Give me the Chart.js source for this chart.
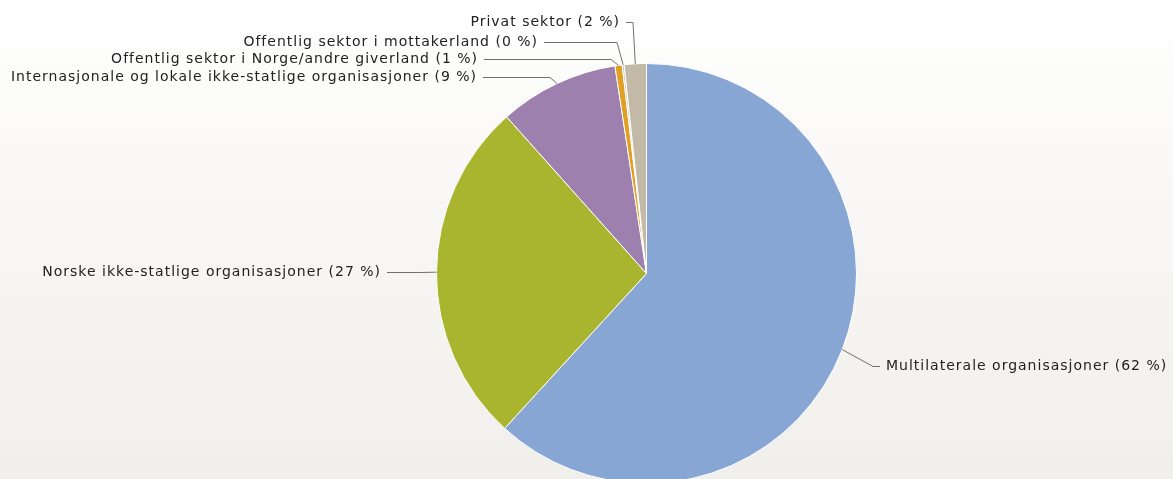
<!DOCTYPE html>
<html>
<head>
<meta charset="utf-8">
<script src="https://cdn.jsdelivr.net/npm/chart.js@4/dist/chart.umd.min.js"></script>
<style>
  html, body { margin: 0; padding: 0; }
  body { width: 1173px; height: 479px; overflow: hidden;
         background: linear-gradient(to bottom, #ffffff 0%, #f8f7f5 45%, #f1efeb 100%); }
  #wrap { position: absolute; left: 0; top: 0; width: 1173px; height: 500px; }
</style>
</head>
<body>
<div id="wrap"><canvas id="c" width="1173" height="500"></canvas></div>
<script>
// ---- data ----
const categories = [
  'Multilaterale organisasjoner',
  'Norske ikke-statlige organisasjoner',
  'Internasjonale og lokale ikke-statlige organisasjoner',
  'Offentlig sektor i Norge/andre giverland',
  'Offentlig sektor i mottakerland',
  'Privat sektor'
];
const shares = [61.8, 26.6, 9.2, 0.55, 0.15, 1.7];
const shareLabels = ['62 %', '27 %', '9 %', '1 %', '0 %', '2 %'];
const sliceColors = ['#88a6d4', '#a9b52e', '#9d80ad', '#e0a024', '#c9c3b4', '#c2baa7'];

// ---- label layout (text anchor, connector bend) ----
const labelLayout = [
  { x: 886, y: 366, align: 'left',  bendX: 873 },
  { x: 381, y: 272, align: 'right', bendX: 420 },
  { x: 477, y: 77,  align: 'right', bendX: 550 },
  { x: 478, y: 59,  align: 'right', bendX: 611 },
  { x: 538, y: 42,  align: 'right', bendX: 617 },
  { x: 620, y: 22,  align: 'right', bendX: 633 }
];

const labelPlugin = {
  id: 'pieLabels',
  afterDatasetsDraw(chart) {
    const ctx = chart.ctx;
    const meta = chart.getDatasetMeta(0);
    ctx.save();
    ctx.font = '14px "DejaVu Sans"';
    ctx.letterSpacing = '1px';
    ctx.textBaseline = 'middle';
    meta.data.forEach((arc, i) => {
      const p = arc.getProps(['x', 'y', 'startAngle', 'endAngle', 'outerRadius'], true);
      const mid = (p.startAngle + p.endAngle) / 2;
      const ex = p.x + Math.cos(mid) * p.outerRadius;
      const ey = p.y + Math.sin(mid) * p.outerRadius;
      const L = labelLayout[i];
      const text = categories[i] + ' (' + shareLabels[i] + ')';
      const sx = L.align === 'right' ? L.x + 6 : L.x - 6;
      ctx.strokeStyle = '#707070';
      ctx.lineWidth = 1;
      ctx.beginPath();
      ctx.moveTo(sx, L.y + 0.5);
      ctx.lineTo(L.bendX, L.y + 0.5);
      ctx.lineTo(ex, ey);
      ctx.stroke();
      ctx.fillStyle = '#222222';
      ctx.textAlign = L.align;
      ctx.fillText(text, L.x, L.y);
    });
    ctx.restore();
  }
};

new Chart(document.getElementById('c'), {
  type: 'pie',
  data: {
    labels: categories,
    datasets: [{
      data: shares,
      backgroundColor: sliceColors,
      borderColor: '#ffffff',
      borderWidth: 1
    }]
  },
  options: {
    responsive: false,
    animation: false,
    events: [],
    layout: { padding: { left: 436, right: 316, top: 63, bottom: 16 } },
    plugins: { legend: { display: false }, tooltip: { enabled: false } }
  },
  plugins: [labelPlugin]
});
</script>
</body>
</html>
